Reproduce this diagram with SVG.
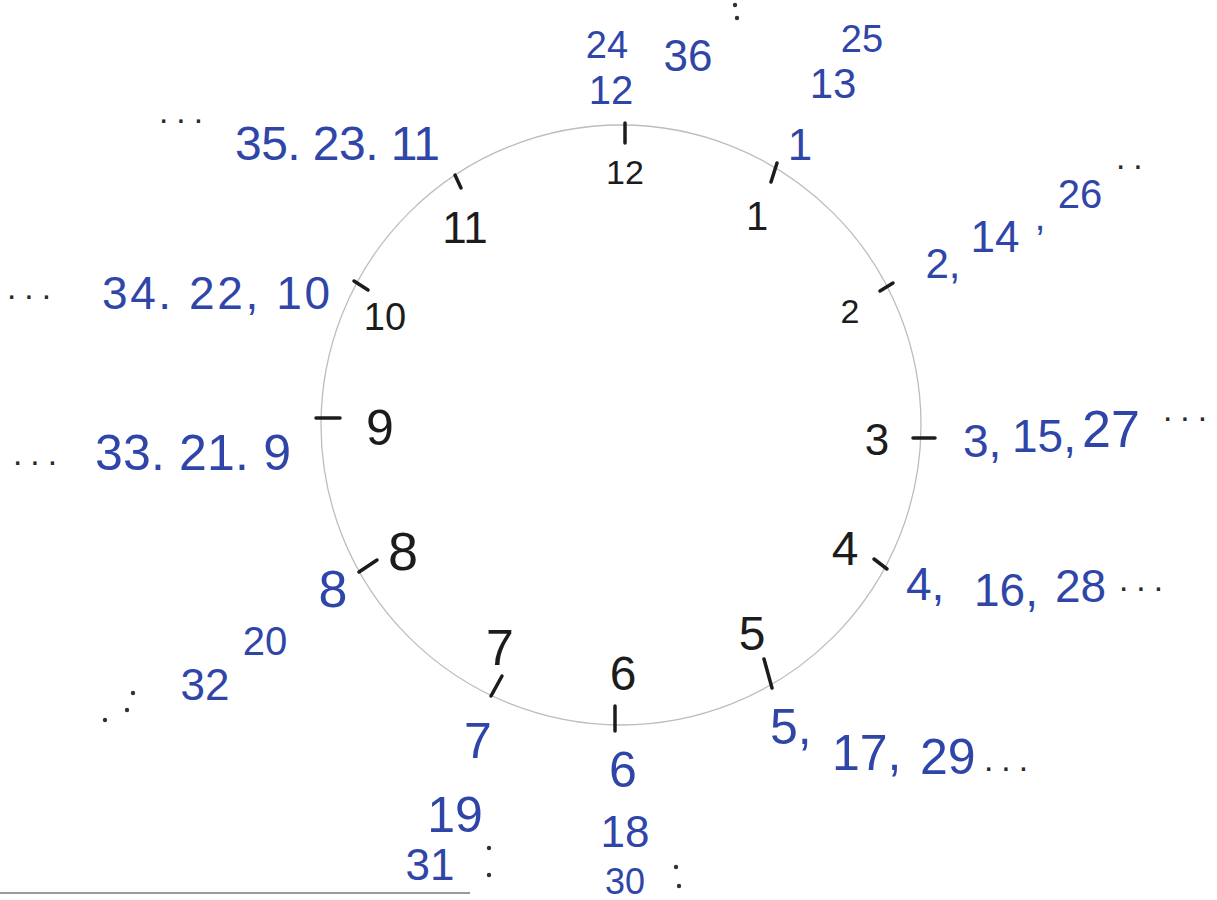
<svg xmlns="http://www.w3.org/2000/svg" width="1217" height="900" viewBox="0 0 1217 900">
<style>
.k{font-family:"Liberation Sans",Arial,sans-serif;fill:#1c1c1c;text-anchor:middle}
.b{font-family:"Liberation Sans",Arial,sans-serif;fill:#2f46a8;text-anchor:middle}
.bs{font-family:"Liberation Sans",Arial,sans-serif;fill:#2f46a8;text-anchor:start}
.el{font-family:"Liberation Sans",Arial,sans-serif;fill:#2a2a2a;text-anchor:start;font-size:34px;letter-spacing:6px}
.t{stroke:#1c1c1c;stroke-width:3.5;stroke-linecap:round}
.dk{fill:#333}
</style>
<rect width="1217" height="900" fill="#ffffff"/>
<g id="face">
<circle cx="621" cy="425" r="300" fill="none" stroke="#bdbdbd" stroke-width="1.3"/>
</g>
<g id="ticks">
<line class="t" x1="625" y1="123" x2="625" y2="143"/>
<line class="t" x1="777" y1="163" x2="771" y2="182"/>
<line class="t" x1="893" y1="283" x2="880" y2="291"/>
<line class="t" x1="913" y1="438" x2="935" y2="438"/>
<line class="t" x1="874" y1="559" x2="887" y2="569"/>
<line class="t" x1="764" y1="659" x2="772" y2="688"/>
<line class="t" x1="615" y1="706" x2="615" y2="731"/>
<line class="t" x1="502" y1="676" x2="491" y2="696"/>
<line class="t" x1="377" y1="560" x2="359" y2="572"/>
<line class="t" x1="316" y1="418" x2="340" y2="418"/>
<line class="t" x1="354" y1="281" x2="368" y2="290"/>
<line class="t" x1="455" y1="175" x2="461" y2="188"/>
</g>
<g id="hours">
<text class="k" x="625" y="184" font-size="34">12</text>
<text class="k" x="757" y="230" font-size="40">1</text>
<text class="k" x="850" y="323" font-size="34">2</text>
<text class="k" x="877" y="455" font-size="44">3</text>
<text class="k" x="845" y="565" font-size="48">4</text>
<text class="k" x="752" y="650" font-size="48">5</text>
<text class="k" x="623" y="690" font-size="48">6</text>
<text class="k" x="500" y="665" font-size="50">7</text>
<text class="k" x="403" y="570" font-size="54">8</text>
<text class="k" x="380" y="445" font-size="50">9</text>
<text class="k" x="385" y="330" font-size="38">10</text>
<text class="k" x="465" y="243" font-size="44">11</text>
</g>
<g id="seq-12">
<text class="b" x="607" y="58" font-size="38">24</text>
<text class="b" x="611" y="104" font-size="40">12</text>
<text class="b" x="688" y="71" font-size="44">36</text>
<circle class="dk" cx="735" cy="5" r="2.2"/>
<circle class="dk" cx="737" cy="18" r="2.2"/>
</g>
<g id="seq-1">
<text class="b" x="862" y="52" font-size="38">25</text>
<text class="b" x="833" y="98" font-size="42">13</text>
<text class="b" x="800" y="160" font-size="44">1</text>
</g>
<g id="seq-2">
<text class="b" x="943" y="278" font-size="42">2,</text>
<text class="b" x="995" y="252" font-size="44">14</text>
<text class="b" x="1040" y="230" font-size="38">,</text>
<text class="b" x="1080" y="208" font-size="40">26</text>
<text class="el" x="1115" y="176">··</text>
</g>
<g id="seq-3">
<text class="bs" x="963" y="457" font-size="46">3,</text>
<text class="bs" x="1012" y="452" font-size="46">15,</text>
<text class="bs" x="1082" y="447" font-size="52">27</text>
<text class="el" x="1162" y="428">···</text>
</g>
<g id="seq-4">
<text class="bs" x="906" y="600" font-size="46">4,</text>
<text class="bs" x="974" y="606" font-size="46">16,</text>
<text class="bs" x="1055" y="602" font-size="46">28</text>
<text class="el" x="1118" y="598">···</text>
</g>
<g id="seq-5">
<text class="bs" x="770" y="744" font-size="50">5,</text>
<text class="bs" x="832" y="770" font-size="50">17,</text>
<text class="bs" x="920" y="774" font-size="50">29</text>
<text class="el" x="983" y="778">···</text>
</g>
<g id="seq-6">
<text class="b" x="623" y="787" font-size="50">6</text>
<text class="b" x="625" y="847" font-size="44">18</text>
<text class="b" x="625" y="894" font-size="36">30</text>
<circle class="dk" cx="676" cy="867" r="2.2"/>
<circle class="dk" cx="679" cy="886" r="2.2"/>
</g>
<g id="seq-7">
<text class="b" x="478" y="758" font-size="50">7</text>
<text class="b" x="455" y="832" font-size="50">19</text>
<text class="b" x="430" y="880" font-size="44">31</text>
<circle class="dk" cx="489" cy="848" r="2.2"/>
<circle class="dk" cx="489" cy="875" r="2.2"/>
</g>
<g id="seq-8">
<text class="b" x="333" y="607" font-size="52">8</text>
<text class="b" x="265" y="655" font-size="40">20</text>
<text class="b" x="205" y="700" font-size="44">32</text>
<circle class="dk" cx="105" cy="720" r="2.2"/>
<circle class="dk" cx="127" cy="710" r="2.2"/>
<circle class="dk" cx="133" cy="693" r="2.2"/>
</g>
<g id="seq-9">
<text class="el" x="12" y="472">···</text>
<text class="bs" x="95" y="470" font-size="50" textLength="196" lengthAdjust="spacing">33. 21. 9</text>
</g>
<g id="seq-10">
<text class="el" x="6" y="306" letter-spacing="14">···</text>
<text class="bs" x="102" y="309" font-size="46" textLength="228" lengthAdjust="spacing">34. 22, 10</text>
</g>
<g id="seq-11">
<text class="el" x="158" y="130" letter-spacing="12">···</text>
<text class="bs" x="235" y="160" font-size="48" textLength="205" lengthAdjust="spacing">35. 23. 11</text>
</g>
<line x1="0" y1="893" x2="470" y2="893" stroke="#9a9a9a" stroke-width="2"/>
</svg>
